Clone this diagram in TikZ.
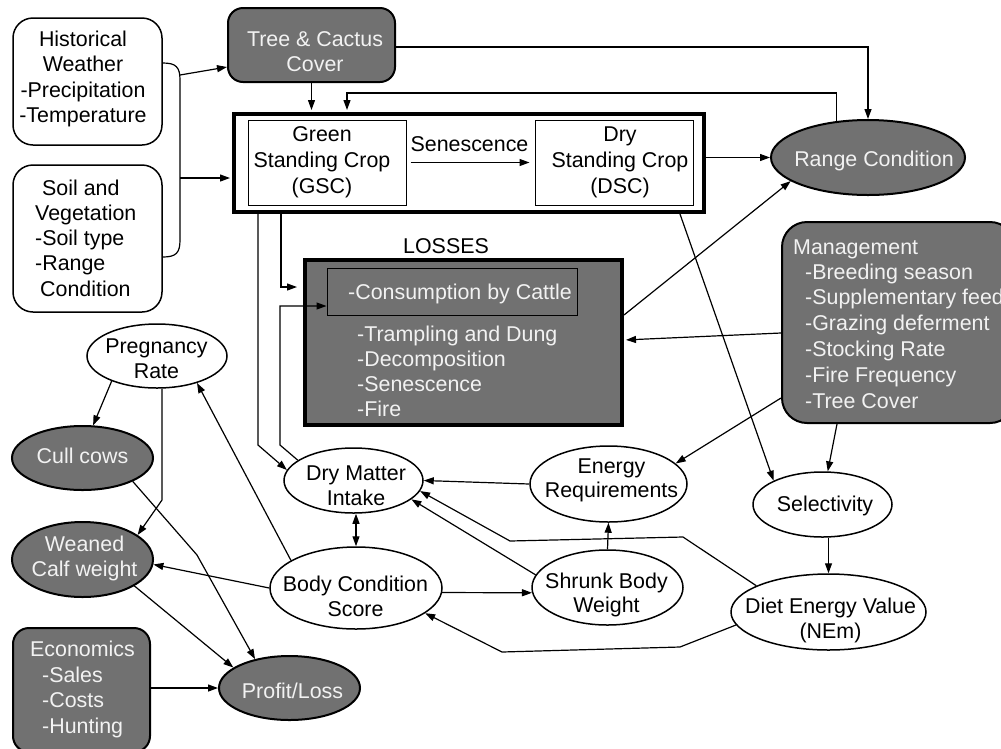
\documentclass[tikz,border=0pt]{standalone}
\usepackage{fontspec}
\setmainfont{Liberation Sans}
\usetikzlibrary{arrows.meta,shapes.geometric,calc}
\definecolor{dk}{HTML}{717171}
\definecolor{lt}{HTML}{F2F2F2}
\newcommand\dfont{\fontsize{21.4}{25}\selectfont}
\newcommand\mltext[6]{%
  \foreach \l [count=\i] in {#6} {\node[#2, name=#1\i] at ({#3},{#4+(\i-1)*#5}) {\l};}}
\tikzset{
  conn/.style={line width=1.2pt},
  arr/.style={conn, -{Triangle[length=10pt,width=7pt]}},
  wbox/.style={draw, line width=1.5pt, fill=white, inner sep=0},
  dbox/.style={draw, line width=2pt, fill=dk, inner sep=0},
  well/.style={ellipse, draw, line width=1.5pt, fill=white, inner sep=0},
  dell/.style={ellipse, draw, line width=2pt, fill=dk, inner sep=0},
  ctxt/.style={inner sep=0, anchor=base, font=\dfont},
  ltxt/.style={inner sep=0, anchor=base west, font=\dfont},
  wctxt/.style={ctxt, text=lt},
  wltxt/.style={ltxt, text=lt}
}
\begin{document}
\begin{tikzpicture}[x=1pt,y=-1pt]
\useasboundingbox (0,0) rectangle (1001,748);
% ---------- shapes ----------
\node[wbox, rounded corners=20pt, minimum width=149pt, minimum height=127pt] (hw) at (87.5,81.5) {};
\node[wbox, rounded corners=20pt, minimum width=149pt, minimum height=147pt] (soil) at (87.5,238.5) {};
\node[dbox, rounded corners=15pt, minimum width=167pt, minimum height=74pt] (tree) at (311.5,45) {};
\node[draw, line width=4pt, inner sep=0, minimum width=470pt, minimum height=98pt] (outer) at (469,163) {};
\node[draw, line width=1pt, inner sep=0, minimum width=158pt, minimum height=85pt] (gsc) at (327,162.5) {};
\node[draw, line width=1pt, inner sep=0, minimum width=158pt, minimum height=85pt] (dsc) at (614,162.5) {};
\node[dell, minimum width=194pt, minimum height=75pt] (range) at (868,157.5) {};
\node[draw, line width=4pt, fill=dk, inner sep=0, minimum width=317pt, minimum height=165pt] (losses) at (463.5,342.5) {};
\node[draw, line width=1pt, fill=dk, inner sep=0, minimum width=250pt, minimum height=47pt] (cons) at (452,291.5) {};
\node[dbox, rounded corners=25pt, minimum width=233pt, minimum height=201pt] (mgmt) at (898.5,322.5) {};
\node[well, minimum width=140pt, minimum height=64pt] (preg) at (157,356) {};
\node[dell, minimum width=141pt, minimum height=64pt] (cull) at (82.5,458) {};
\node[dell, minimum width=141pt, minimum height=75pt] (weaned) at (82.5,559.5) {};
\node[dbox, rounded corners=16pt, minimum width=137pt, minimum height=124pt] (econ) at (81.5,690) {};
\node[dell, minimum width=141pt, minimum height=64pt] (profit) at (289.5,688) {};
\node[well, minimum width=139pt, minimum height=65pt] (dmi) at (353.5,480.5) {};
\node[well, minimum width=172pt, minimum height=82pt] (bcs) at (356,588) {};
\node[well, minimum width=157pt, minimum height=76pt] (ereq) at (608.5,484) {};
\node[well, minimum width=151pt, minimum height=75pt] (sbw) at (607.5,587.5) {};
\node[well, minimum width=139pt, minimum height=65pt] (sel) at (822.5,504.5) {};
\node[well, minimum width=195pt, minimum height=76pt] (diet) at (828.5,612) {};
% ---------- texts ----------
\mltext{ht}{ctxt}{83}{46}{25.6}{Historical,Weather,-Precipitation,-Temperature}
\mltext{so}{ltxt}{35}{195}{25.3}{\hspace{7pt}Soil and,Vegetation,-Soil type,-Range,\hspace{5pt}Condition}
\mltext{tt}{wctxt}{315}{46}{25}{Tree \& Cactus,Cover}
\mltext{gt}{ctxt}{322}{141}{26}{Green,Standing Crop,(GSC)}
\mltext{dst}{ctxt}{620}{141}{26}{Dry,Standing Crop,(DSC)}
\node[ctxt] (sen) at (469.5,151) {Senescence};
\node[ctxt] (losslbl) at (446,253) {LOSSES};
\node[wltxt] (ct) at (348,299) {-Consumption by Cattle};
\mltext{lt}{wltxt}{357}{341}{25}{-Trampling and Dung,-Decomposition,-Senescence,-Fire}
\node[wctxt] (rt) at (874,166) {Range Condition};
\node[wltxt] (mt) at (793,254) {Management};
\mltext{mi}{wltxt}{805}{279}{25.8}{-Breeding season,-Supplementary feed,-Grazing deferment,-Stocking Rate,-Fire Frequency,-Tree Cover}
\node[wltxt] (et) at (30,656) {Economics};
\mltext{ei}{wltxt}{42}{682}{25.5}{-Sales,-Costs,-Hunting}
\mltext{pt}{ctxt}{156.5}{353}{25}{Pregnancy,Rate}
\node[wctxt] (cct) at (82.5,463) {Cull cows};
\mltext{wt}{wctxt}{84.5}{551}{25}{Weaned,Calf weight}
\node[wctxt] (plt) at (292.5,698) {Profit/Loss};
\mltext{dmt}{ctxt}{356}{480}{25}{Dry Matter,Intake}
\mltext{bt}{ctxt}{355.5}{591}{25}{Body Condition,Score}
\mltext{ert}{ctxt}{611.5}{473}{24.5}{Energy,Requirements}
\mltext{st}{ctxt}{606.5}{588}{24.5}{Shrunk Body,Weight}
\node[ctxt] (selt) at (825,511) {Selectivity};
\mltext{nt}{ctxt}{830.5}{613}{25}{Diet Energy Value,(NEm)}
% ---------- connectors ----------
\coordinate (brtop) at ([yshift=18.5pt]hw.east);
\coordinate (brbot) at ([yshift=-18.5pt]soil.east);
\coordinate (brA) at (180,75);
\coordinate (brB) at (180,178);
\draw[conn] (brtop) .. controls (176,63) and (180,67) .. (180,80) -- (180,240) .. controls (180,253) and (176,257) .. (brbot);
\draw[arr] (brA) -- (tree.west |- 0,67);
\draw[arr, shorten >=2pt] (brB) -- (outer.west |- brB);
\draw[arr, shorten >=2pt] (tree.south) -- (tree.south |- outer.north);
\draw[arr] (tree.east |- 0,47) -| (range.north);
\draw[arr, shorten >=2pt] (range.131) |- (347,93) -- (outer.north -| 347,0);
\draw[arr] (range.west -| outer.east) -- (range.west);
\draw[arr, shorten <=4pt, shorten >=5pt] (gsc.east) -- (dsc.west);
\draw[arr, shorten >=6pt] (outer.south -| 281,0) |- (losses.west |- 0,287);
\draw[arr] (outer.south -| 258,0) -- (258,445) -- (dmi.171);
\draw[arr] (dmi.160) -- (280,445) -- (280,306) -- (cons.west |- 0,306);
\draw[arr, shorten >=2pt] (mgmt.west |- 0,333) -- (losses.east |- 0,340);
\draw[arr] (losses.east |- 0,315) -- (range.197);
\draw[arr] (outer.south -| 680,0) -- (sel.154);
\draw[arr] (mgmt.west |- 0,398) -- (ereq.17);
\draw[arr] (mgmt.south -| 837,0) -- (sel.81);
\draw[arr] (sel.south -| diet.north) -- (diet.north);
\draw[arr] (preg.209) -- (cull.72);
\draw[arr] (preg.south -| 162,0) -- (162,500) -- (weaned.24);
\draw[arr] (cull.-25) -- (197,555) -- (profit.140);
\draw[arr] (weaned.-27) -- (profit.160);
\draw[arr] (econ.east |- profit.west) -- (profit.west);
\draw[arr] (bcs.157) -- (preg.-34);
\draw[arr] (bcs.west) -- (weaned.-4);
\draw[conn, {Triangle[length=10pt,width=7pt]}-{Triangle[length=10pt,width=7pt]}] (dmi.south -| bcs.north) -- (bcs.north);
\draw[arr] (bcs.-3) -- (sbw.184);
\draw[arr] (sbw.north) -- (ereq.south);
\draw[arr] (ereq.west) -- (dmi.east);
\draw[arr] (sbw.170) -- (dmi.-18);
\draw[arr] (diet.160) -- (683,537) -- (510,541) -- (dmi.-9);
\draw[arr] (diet.188) -- (680,647) -- (502,652) -- (bcs.-20);
\end{tikzpicture}
\end{document}
